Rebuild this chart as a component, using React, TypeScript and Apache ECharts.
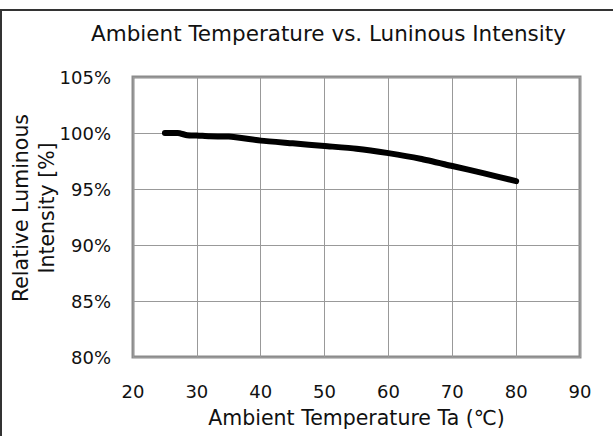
import React, { useEffect, useRef } from "react";
import * as echarts from "echarts";

const temperature = [25, 27, 28.5, 30, 32, 35, 40, 45, 50, 55, 60, 65, 70, 75, 80];
const intensity = [100, 100, 99.8, 99.78, 99.7, 99.68, 99.32, 99.08, 98.84, 98.6, 98.2, 97.7, 97.05, 96.4, 95.7];
const titleText = "Ambient Temperature vs. Luninous Intensity";
const xName = "Ambient Temperature Ta (℃)";
const yName = "Relative Luminous\nIntensity [%]";

const FONT = "DejaVu Sans";

export default function App() {
  const ref = useRef<HTMLDivElement>(null);
  useEffect(() => {
    if (!ref.current) return;
    const chart = echarts.init(ref.current, undefined, { renderer: "svg" });
    chart.setOption({
      animation: false,
      backgroundColor: "#ffffff",
      title: {
        text: titleText,
        left: 86,
        top: 17,
        textStyle: { fontFamily: FONT, fontSize: 21.5, fontWeight: "normal", color: "#111" },
      },
      graphic: [
        { type: "line", shape: { x1: 0, y1: 10, x2: 613, y2: 10 }, style: { stroke: "#333", lineWidth: 2 } },
        { type: "line", shape: { x1: 1, y1: 10, x2: 1, y2: 436 }, style: { stroke: "#333", lineWidth: 2 } },
      ],
      grid: {
        left: 133,
        top: 77,
        right: 33,
        bottom: 79,
        show: true,
        borderColor: "#8c8c8c",
        borderWidth: 3,
        backgroundColor: "#fff",
        containLabel: false,
        outerBoundsMode: "none",
      },
      xAxis: {
        type: "value",
        min: 20,
        max: 90,
        interval: 10,
        name: xName,
        nameLocation: "middle",
        nameGap: 50,
        nameMoveOverlap: false,
        nameTextStyle: { fontFamily: FONT, fontSize: 20.5, color: "#111" },
        axisLine: { show: false },
        axisTick: { show: false },
        axisLabel: { margin: 25, fontFamily: FONT, fontSize: 18, color: "#111" },
        splitLine: { show: true, lineStyle: { color: "#999", width: 1 } },
      },
      yAxis: {
        type: "value",
        min: 80,
        max: 105,
        interval: 5,
        name: yName,
        nameLocation: "middle",
        nameRotate: 90,
        nameGap: 73,
        nameMoveOverlap: false,
        nameTextStyle: {
          fontFamily: FONT,
          fontSize: 20.5,
          color: "#111",
          lineHeight: 26,
          padding: [0, 0, 0, 18],
        },
        axisLine: { show: false },
        axisTick: { show: false },
        axisLabel: {
          margin: 22,
          fontFamily: FONT,
          fontSize: 18,
          color: "#111",
          formatter: (v: number) => `${v}%`,
        },
        splitLine: { show: true, lineStyle: { color: "#999", width: 1 } },
      },
      series: [
        {
          type: "line",
          data: temperature.map((t, i) => [t, intensity[i]]),
          showSymbol: false,
          smooth: 0.2,
          lineStyle: { color: "#000", width: 6, cap: "round", join: "round" },
        },
      ],
    });
    return () => chart.dispose();
  }, []);
  return (
    <div
      ref={ref}
      style={{ position: "fixed", left: 0, top: 0, width: 613, height: 436 }}
    />
  );
}
